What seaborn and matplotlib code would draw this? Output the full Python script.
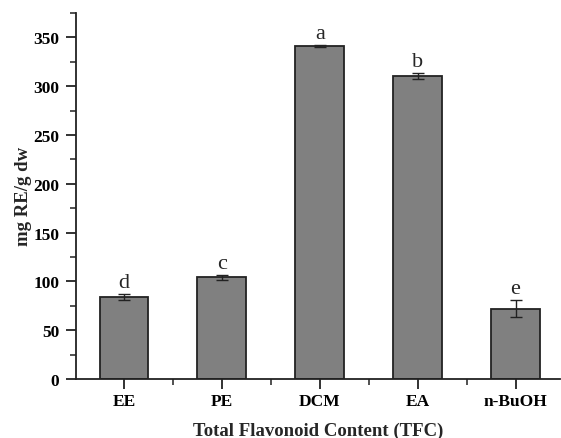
import matplotlib
matplotlib.use("Agg")
import matplotlib.pyplot as plt
import seaborn as sns
import pandas as pd
import numpy as np
from matplotlib.ticker import MultipleLocator, FixedLocator

categories = ["EE", "PE", "DCM", "EA", "n-BuOH"]
values = [84, 104, 341, 310, 72]
errors = [3.5, 2.5, 1.0, 3.0, 8.5]
letters = ["d", "c", "a", "b", "e"]

sns.set_theme(style="ticks")
plt.rcParams['font.family'] = ['Liberation Serif', 'DejaVu Serif']

df = pd.DataFrame({"cat": categories, "val": values})

fig = plt.figure(figsize=(5.61, 4.39), dpi=100)
ax = fig.add_axes([0.1355, 0.1344, 0.862, 0.834])

sns.barplot(data=df, x="cat", y="val", color="#808080", saturation=1,
            width=0.5, edgecolor="#222222", linewidth=1.3, errorbar=None, ax=ax)
xs = np.arange(len(categories))
ax.errorbar(xs, values, yerr=errors, fmt="none", ecolor="#222222",
            elinewidth=1.0, capsize=4, capthick=1.0)
for x, v, e, l in zip(xs, values, errors, letters):
    ax.text(x, v + e + 2, l, ha="center", va="bottom", fontsize=16)

ax.set_ylim(0, 375)
ax.set_xlim(-0.49, 4.45)
ax.yaxis.set_major_locator(MultipleLocator(50))
ax.yaxis.set_minor_locator(MultipleLocator(25))
ax.xaxis.set_minor_locator(FixedLocator(xs[:-1] + 0.5))
for s in ["top", "right"]:
    ax.spines[s].set_visible(False)
for s in ["left", "bottom"]:
    ax.spines[s].set_linewidth(1.3)
    ax.spines[s].set_color("#222222")
ax.tick_params(axis="both", which="major", length=7, width=1.3, colors="#222222",
               labelsize=12.5, labelcolor="black")
ax.tick_params(axis="x", which="major", pad=3)
ax.tick_params(axis="y", which="major", pad=5)
ax.tick_params(axis="both", which="minor", length=4, width=1.1, colors="#222222")
for lab in ax.get_xticklabels() + ax.get_yticklabels():
    lab.set_fontweight("bold")
ax.set_xlabel("Total Flavonoid Content (TFC)", fontsize=13.5, fontweight="bold", labelpad=9)
ax.set_ylabel("mg RE/g dw", fontsize=13.5, fontweight="bold", labelpad=1)

fig.savefig("out.png", dpi=100)
